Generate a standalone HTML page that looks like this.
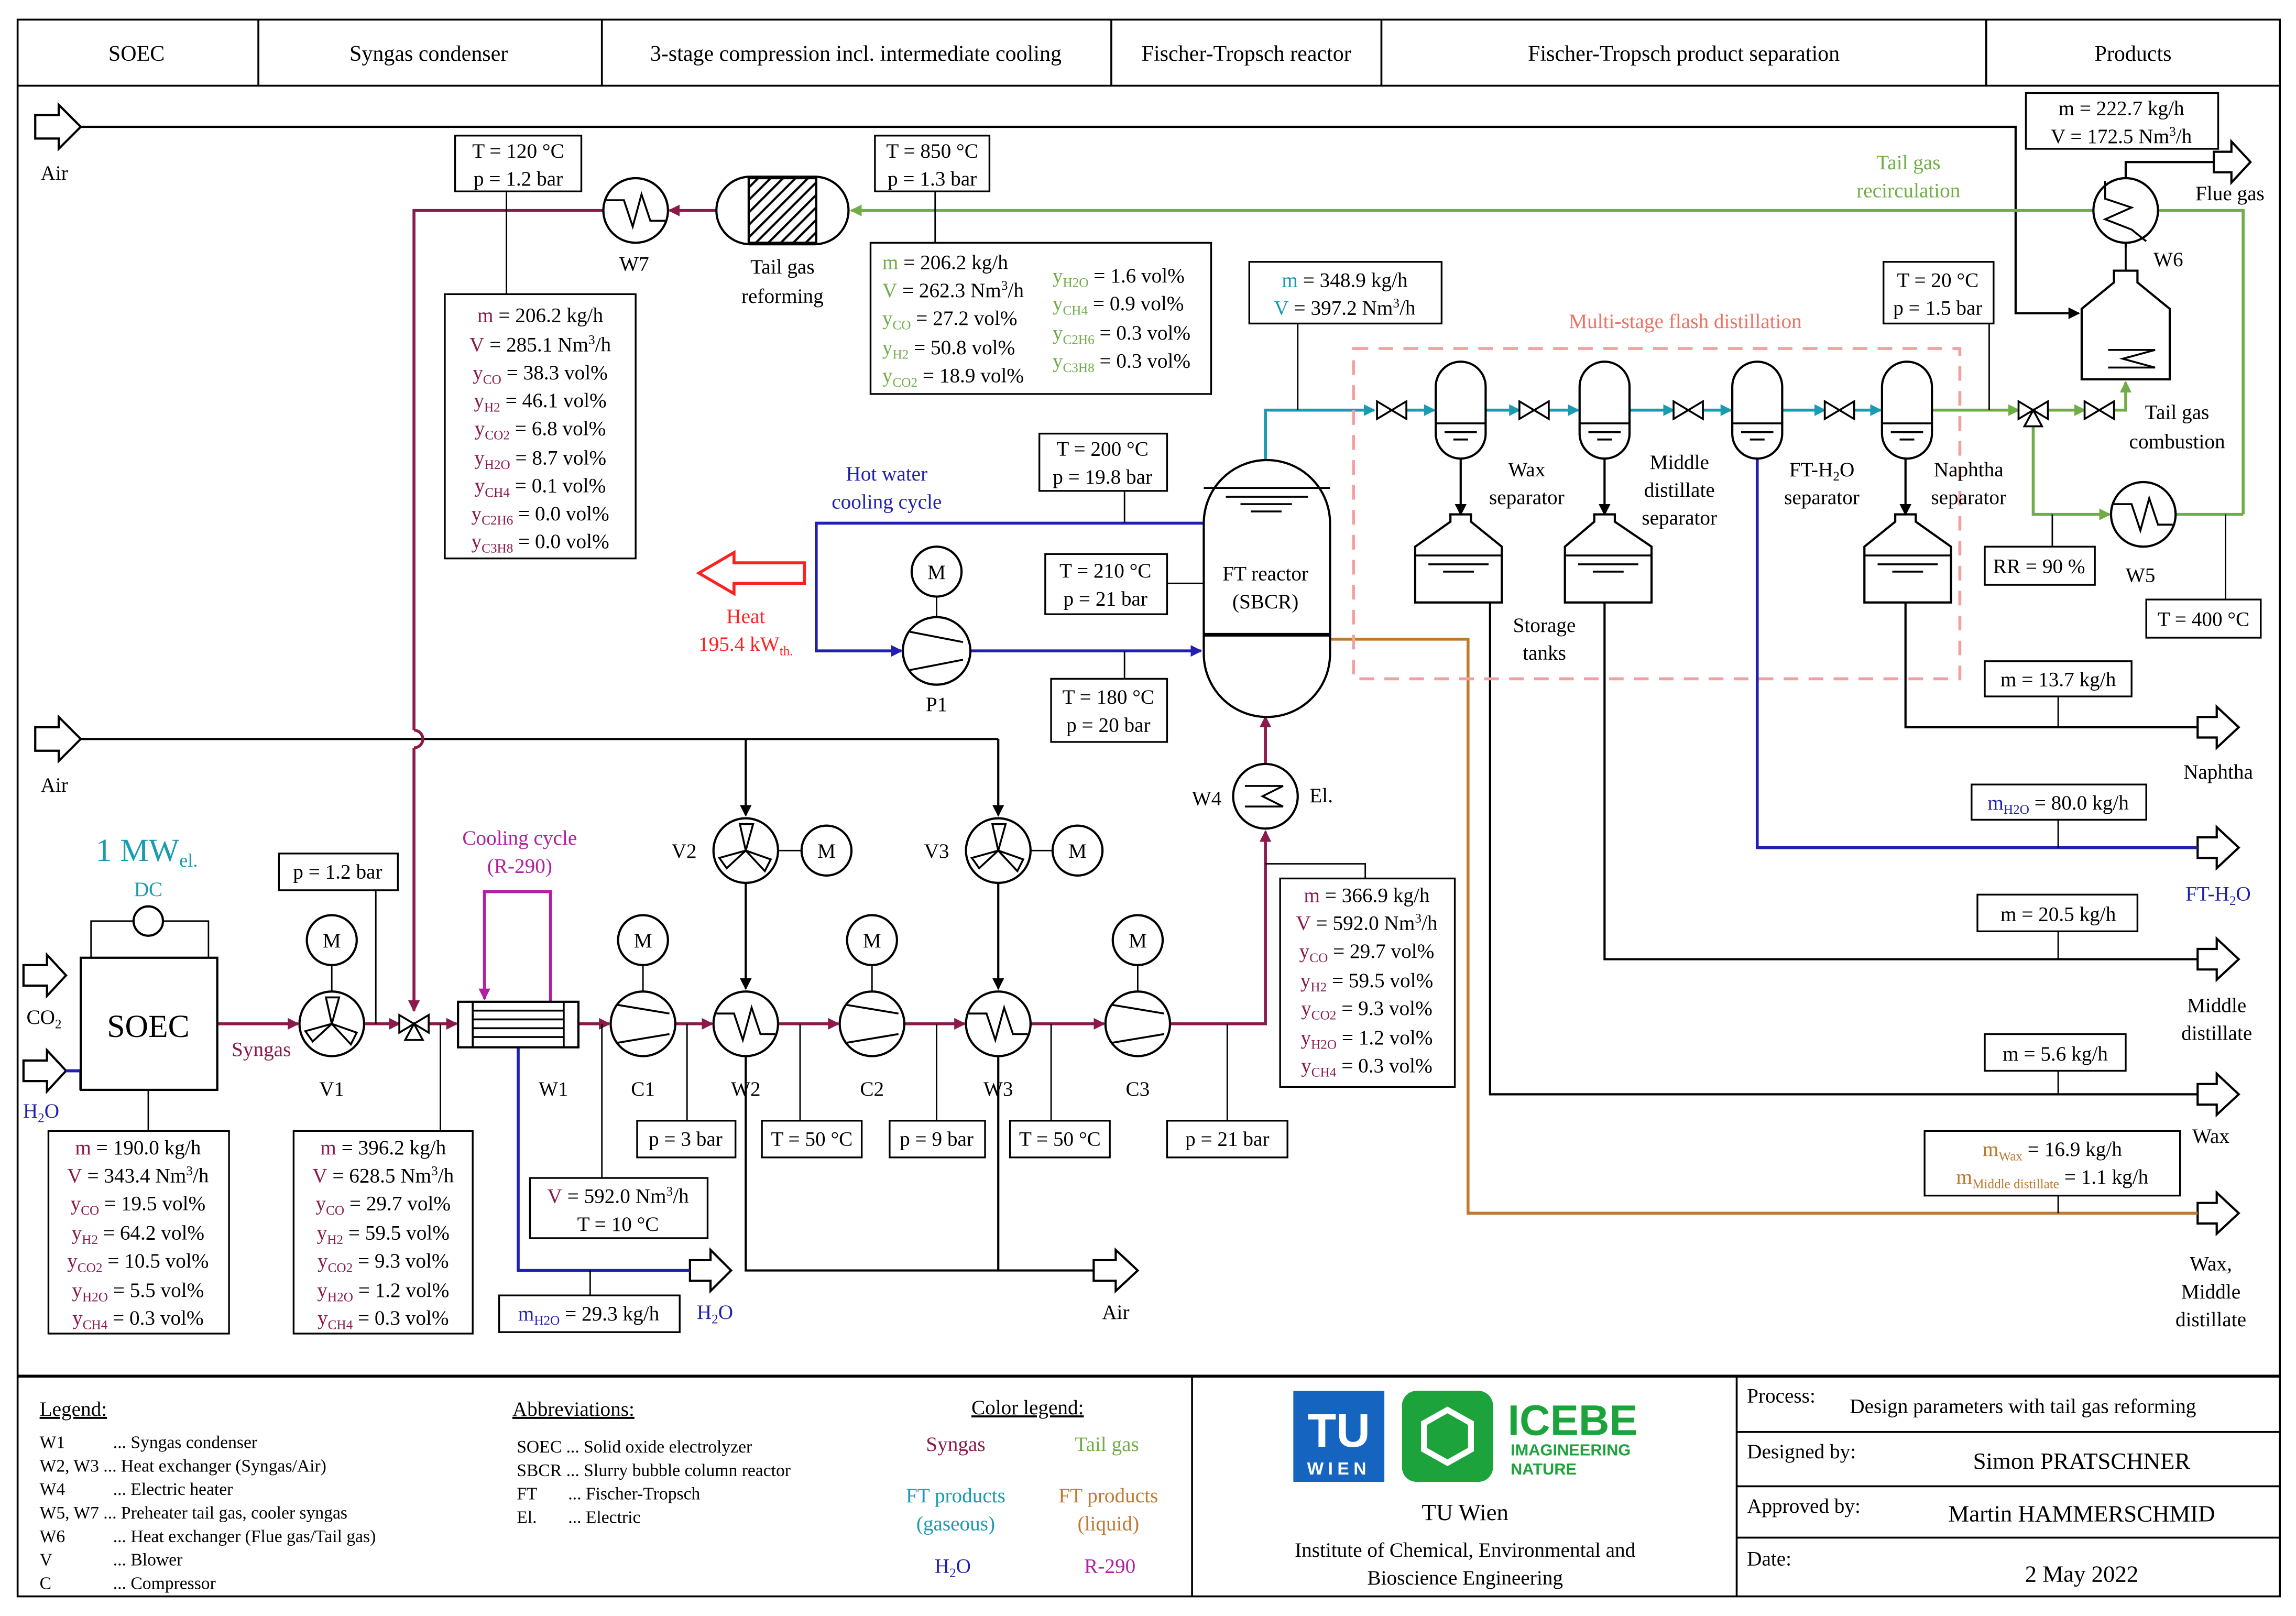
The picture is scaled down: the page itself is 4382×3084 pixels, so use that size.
<!DOCTYPE html>
<html><head><meta charset="utf-8"><style>
html,body{margin:0;padding:0;background:#fff}
svg{display:block}
text{font-family:"Liberation Serif",serif;font-size:14px;fill:#000}
.c{text-anchor:middle}
.s{font-size:9px}
</style></head><body>
<svg width="4382" height="3084" viewBox="0 0 1564 1100" xmlns="http://www.w3.org/2000/svg">
<defs>
<marker id="ak" markerWidth="8" markerHeight="8" refX="7" refY="4" orient="auto" markerUnits="userSpaceOnUse"><path d="M0,0L8,4L0,8z" fill="#000"/></marker>
<marker id="ap" markerWidth="8" markerHeight="8" refX="7" refY="4" orient="auto" markerUnits="userSpaceOnUse"><path d="M0,0L8,4L0,8z" fill="#8B1A4B"/></marker>
<marker id="ag" markerWidth="8" markerHeight="8" refX="7" refY="4" orient="auto" markerUnits="userSpaceOnUse"><path d="M0,0L8,4L0,8z" fill="#70AD47"/></marker>
<marker id="at" markerWidth="8" markerHeight="8" refX="7" refY="4" orient="auto" markerUnits="userSpaceOnUse"><path d="M0,0L8,4L0,8z" fill="#1A9BB0"/></marker>
<marker id="ab" markerWidth="8" markerHeight="8" refX="7" refY="4" orient="auto" markerUnits="userSpaceOnUse"><path d="M0,0L8,4L0,8z" fill="#2020B0"/></marker>
<marker id="am" markerWidth="8" markerHeight="8" refX="7" refY="4" orient="auto" markerUnits="userSpaceOnUse"><path d="M0,0L8,4L0,8z" fill="#B020A0"/></marker>
<pattern id="hatch" width="6" height="6" patternUnits="userSpaceOnUse" patternTransform="rotate(45)"><rect width="6" height="6" fill="#fff"/><line x1="0" y1="0" x2="0" y2="6" stroke="#000" stroke-width="3"/></pattern>
</defs>
<rect width="1564" height="1100" fill="#fff"/>
<!-- frame -->
<g fill="none" stroke="#000" stroke-width="1.3">
<rect x="12" y="13" width="1541" height="1074"/>
<line x1="12" y1="58" x2="1553" y2="58"/>
<line x1="176" y1="13" x2="176" y2="58"/><line x1="410" y1="13" x2="410" y2="58"/><line x1="757" y1="13" x2="757" y2="58"/><line x1="941" y1="13" x2="941" y2="58"/><line x1="1353" y1="13" x2="1353" y2="58"/>
<line x1="12" y1="937" x2="1553" y2="937" stroke-width="2"/>
<line x1="812" y1="937" x2="812" y2="1087"/><line x1="1183" y1="937" x2="1183" y2="1087"/>
<line x1="1183" y1="975" x2="1553" y2="975"/><line x1="1183" y1="1012" x2="1553" y2="1012"/><line x1="1183" y1="1047" x2="1553" y2="1047"/>
</g>
<g font-size="15">
<text class="c" x="93" y="41" style="font-size:15px">SOEC</text>
<text class="c" x="292" y="41" style="font-size:15px">Syngas condenser</text>
<text class="c" x="583" y="41" style="font-size:15px">3-stage compression incl. intermediate cooling</text>
<text class="c" x="849" y="41" style="font-size:15px">Fischer-Tropsch reactor</text>
<text class="c" x="1147" y="41" style="font-size:15px">Fischer-Tropsch product separation</text>
<text class="c" x="1453" y="41" style="font-size:15px">Products</text>
</g>

<!-- black air lines -->
<g fill="none" stroke="#000" stroke-width="1.5">
<polyline points="55,86 1373,86 1373,213 1416,213" marker-end="url(#ak)"/>
<polyline points="55,503 680,503"/>
<line x1="508" y1="503" x2="508" y2="555" marker-end="url(#ak)"/>
<line x1="680" y1="503" x2="680" y2="555" marker-end="url(#ak)"/>
<line x1="508" y1="601" x2="508" y2="673" marker-end="url(#ak)"/>
<line x1="680" y1="601" x2="680" y2="673" marker-end="url(#ak)"/>
<polyline points="508,719 508,865 745,865"/>
<line x1="680" y1="719" x2="680" y2="865"/>
<!-- product lines -->
<polyline points="1298,410 1298,495 1500,495"/>
<polyline points="1093,410 1093,653 1500,653"/>
<polyline points="1015,410 1015,745 1500,745"/>
<line x1="995" y1="312" x2="995" y2="350" marker-end="url(#ak)"/>
<line x1="1093" y1="312" x2="1093" y2="350" marker-end="url(#ak)"/>
<line x1="1298" y1="312" x2="1298" y2="350" marker-end="url(#ak)"/>
<polyline points="1448,168 1448,110 1508,110"/>
</g>
<!-- block arrows -->
<g fill="#fff" stroke="#000" stroke-width="1.5">
<polygon points="24,78 40,78 40,71 55,86 40,101 40,94 24,94"/>
<polygon points="24,495 40,495 40,488 55,503 40,518 40,511 24,511"/>
<polygon points="16,657 32,657 32,650 45,664 32,678 32,671 16,671"/>
<polygon points="16,722 32,722 32,715 45,729 32,743 32,736 16,736"/>
<polygon points="1508,103 1520,103 1520,96 1533,110 1520,124 1520,117 1508,117"/>
<polygon points="1497,488 1510,488 1510,481 1525,495 1510,509 1510,502 1497,502"/>
<polygon points="1497,570 1510,570 1510,563 1525,577 1510,591 1510,584 1497,584"/>
<polygon points="1497,646 1510,646 1510,639 1525,653 1510,667 1510,660 1497,660"/>
<polygon points="1497,738 1510,738 1510,731 1525,745 1510,759 1510,752 1497,752"/>
<polygon points="1497,819 1510,819 1510,812 1525,826 1510,840 1510,833 1497,833"/>
<polygon points="745,858 760,858 760,851 775,865 760,879 760,872 745,872"/>
<polygon points="470,858 484,858 484,851 498,865 484,879 484,872 470,872"/>
</g>
<polygon points="548,383 500,383 500,376 476,390 500,404 500,397 548,397" fill="#fff" stroke="#FF2020" stroke-width="2"/>

<!-- purple syngas -->
<g fill="none" stroke="#8B1A4B" stroke-width="2">
<line x1="148" y1="697" x2="203" y2="697" marker-end="url(#ap)"/>
<line x1="248" y1="697" x2="272" y2="697" marker-end="url(#ap)"/>
<line x1="292" y1="697" x2="311" y2="697" marker-end="url(#ap)"/>
<line x1="394" y1="697" x2="415" y2="697" marker-end="url(#ap)"/>
<line x1="460" y1="697" x2="485" y2="697" marker-end="url(#ap)"/>
<line x1="530" y1="697" x2="571" y2="697" marker-end="url(#ap)"/>
<line x1="616" y1="697" x2="657" y2="697" marker-end="url(#ap)"/>
<line x1="702" y1="697" x2="752" y2="697" marker-end="url(#ap)"/>
<polyline points="797,697 862,697 862,566" marker-end="url(#ap)"/>
<line x1="862" y1="520" x2="862" y2="488" marker-end="url(#ap)"/>
<polyline points="411,143 282,143 282,497"/>
<path d="M282,497 a6,6 0 0 1 0,12"/>
<line x1="282" y1="509" x2="282" y2="688" marker-end="url(#ap)"/>
<line x1="488" y1="143" x2="456" y2="143" marker-end="url(#ap)"/>
</g>
<!-- green -->
<g fill="none" stroke="#70AD47" stroke-width="2">
<polyline points="1528,350 1528,143 1470,143"/>
<line x1="1426" y1="143" x2="580" y2="143" marker-end="url(#ag)"/>
<line x1="1315" y1="279" x2="1375" y2="279" marker-end="url(#ag)"/>
<line x1="1395" y1="279" x2="1420" y2="279" marker-end="url(#ag)"/>
<polyline points="1440,279 1448,279 1448,260" marker-end="url(#ag)"/>
<polyline points="1385,290 1385,350 1437,350" marker-end="url(#ag)"/>
<line x1="1482" y1="350" x2="1528" y2="350"/>
</g>
<!-- teal -->
<g fill="none" stroke="#1A9BB0" stroke-width="2">
<polyline points="862,313 862,279 936,279" marker-end="url(#at)"/>
<line x1="958" y1="279" x2="977" y2="279" marker-end="url(#at)"/>
<line x1="1012" y1="279" x2="1035" y2="279" marker-end="url(#at)"/>
<line x1="1055" y1="279" x2="1075" y2="279" marker-end="url(#at)"/>
<line x1="1110" y1="279" x2="1140" y2="279" marker-end="url(#at)"/>
<line x1="1160" y1="279" x2="1179" y2="279" marker-end="url(#at)"/>
<line x1="1214" y1="279" x2="1243" y2="279" marker-end="url(#at)"/>
<line x1="1263" y1="279" x2="1281" y2="279" marker-end="url(#at)"/>
</g>
<!-- blue -->
<g fill="none" stroke="#2020B0" stroke-width="2">
<polyline points="820,356 556,356 556,443 614,443" marker-end="url(#ab)"/>
<line x1="661" y1="443" x2="818" y2="443" marker-end="url(#ab)"/>
<polyline points="1197,312 1197,577 1497,577"/>
<polyline points="353,713 353,865 470,865"/>
<polyline points="55,742 55,729 45,729"/>
</g>
<line x1="45" y1="729" x2="55" y2="729" stroke="#2020B0" stroke-width="2"/>
<!-- brown -->
<polyline points="906,435 1000,435 1000,826 1497,826" fill="none" stroke="#C07830" stroke-width="2"/>
<!-- magenta -->
<polyline points="375,682 375,607 330,607 330,680" fill="none" stroke="#B020A0" stroke-width="2" marker-end="url(#am)"/>
<!-- dashed flash -->
<rect x="922" y="237" width="413" height="225" fill="none" stroke="#F4A0A0" stroke-width="2" stroke-dasharray="10,7"/>

<!-- thin connector lines -->
<g stroke="#000" stroke-width="1" fill="none">
<line x1="345" y1="130" x2="345" y2="200"/>
<line x1="637" y1="130" x2="637" y2="165"/>
<line x1="884" y1="220" x2="884" y2="279"/>
<line x1="1355" y1="220" x2="1355" y2="279"/>
<line x1="1398" y1="350" x2="1398" y2="372"/>
<line x1="1516" y1="350" x2="1516" y2="408"/>
<line x1="766" y1="334" x2="766" y2="356"/>
<line x1="795" y1="397" x2="820" y2="397"/>
<line x1="766" y1="443" x2="766" y2="462"/>
<polyline points="862,588 930,588 930,598"/>
<line x1="1402" y1="474" x2="1402" y2="495"/>
<line x1="1402" y1="558" x2="1402" y2="577"/>
<line x1="1402" y1="634" x2="1402" y2="653"/>
<line x1="1402" y1="729" x2="1402" y2="745"/>
<line x1="1402" y1="814" x2="1402" y2="826"/>
<line x1="256" y1="606" x2="256" y2="697"/>
<line x1="101" y1="742" x2="101" y2="770"/>
<line x1="300" y1="697" x2="300" y2="770"/>
<line x1="410" y1="697" x2="410" y2="802"/>
<line x1="402" y1="865" x2="402" y2="882"/>
<line x1="468" y1="697" x2="468" y2="763"/>
<line x1="545" y1="697" x2="545" y2="763"/>
<line x1="638" y1="697" x2="638" y2="763"/>
<line x1="716" y1="697" x2="716" y2="763"/>
<line x1="836" y1="697" x2="836" y2="763"/>
<line x1="226" y1="657" x2="226" y2="675"/>
<line x1="438" y1="657" x2="438" y2="675"/>
<line x1="594" y1="657" x2="594" y2="675"/>
<line x1="775" y1="657" x2="775" y2="675"/>
<line x1="530" y1="579" x2="546" y2="579"/>
<line x1="702" y1="579" x2="717" y2="579"/>
<line x1="638" y1="406" x2="638" y2="420"/>
<polyline points="62,652 62,627 91,627"/><polyline points="111,627 142,627 142,652"/>
</g>

<!-- equipment -->
<g fill="#fff" stroke="#000" stroke-width="1.5">
<!-- SOEC -->
<rect x="55" y="652" width="93" height="90"/>
<circle cx="101" cy="627" r="10"/>
<!-- motors -->
<circle cx="226" cy="640" r="17"/><circle cx="438" cy="640" r="17"/><circle cx="594" cy="640" r="17"/><circle cx="775" cy="640" r="17"/>
<circle cx="563" cy="579" r="17"/><circle cx="734" cy="579" r="17"/><circle cx="638" cy="389" r="17"/>
<!-- blowers -->
<circle cx="226" cy="697" r="22"/><circle cx="508" cy="579" r="22"/><circle cx="680" cy="579" r="22"/>
<!-- compressors -->
<circle cx="438" cy="697" r="22"/><circle cx="594" cy="697" r="22"/><circle cx="775" cy="697" r="22"/>
<circle cx="638" cy="443" r="23"/>
<!-- HX -->
<circle cx="508" cy="697" r="22"/><circle cx="680" cy="697" r="22"/><circle cx="433" cy="143" r="22"/><circle cx="1460" cy="350" r="22"/><circle cx="1448" cy="143" r="22"/><circle cx="862" cy="542" r="22"/>
<!-- W1 -->
<rect x="312" y="682" width="82" height="31"/>
<!-- reforming -->
<rect x="488" y="120" width="90" height="46" rx="23"/>
<rect x="510" y="121" width="46" height="44" fill="url(#hatch)"/>
<!-- FT reactor -->
<path d="M820,356 A43,43 0 0 1 906,356 L906,445 A43,43 0 0 1 820,445 Z"/>
<!-- separators -->
<rect x="978" y="246" width="34" height="66" rx="17"/>
<rect x="1076" y="246" width="34" height="66" rx="17"/>
<rect x="1180" y="246" width="34" height="66" rx="17"/>
<rect x="1282" y="246" width="34" height="66" rx="17"/>
<!-- tanks -->
<polygon points="964,372 988,355 988,350 1002,350 1002,355 1023,372 1023,410 964,410"/>
<polygon points="1066,372 1086,355 1086,350 1100,350 1100,355 1125,372 1125,410 1066,410"/>
<polygon points="1270,372 1291,355 1291,350 1305,350 1305,355 1329,372 1329,410 1270,410"/>
<!-- combustion -->
<polygon points="1418,210 1440,192 1440,184 1456,184 1456,192 1478,210 1478,258 1418,258"/>
</g>
<g fill="none" stroke="#000" stroke-width="1.3">
<!-- blower blades -->
<path d="M226,697 l-4,-18 l9,0 z M226,697 l17,6 l-4,8 z M226,697 l-13,12 l-5,-7 z"/>
<path d="M508,579 l-4,-18 l9,0 z M508,579 l17,6 l-4,8 z M508,579 l-13,12 l-5,-7 z"/>
<path d="M680,579 l-4,-18 l9,0 z M680,579 l17,6 l-4,8 z M680,579 l-13,12 l-5,-7 z"/>
<!-- compressor lines -->
<path d="M420,684 L456,690 M420,710 L456,704"/>
<path d="M576,684 L612,690 M576,710 L612,704"/>
<path d="M757,684 L793,690 M757,710 L793,704"/>
<path d="M620,430 L656,437 M620,456 L656,449"/>
<!-- HX zigzags -->
<polyline points="488,690 500,690 506,708 512,686 518,704 528,704"/>
<polyline points="660,690 672,690 678,708 684,686 690,704 700,704"/>
<polyline points="413,136 425,136 431,154 437,132 443,150 453,150"/>
<polyline points="1440,343 1452,343 1458,361 1464,339 1470,357 1480,357"/>
<polyline points="1434,123 1434,135 1452,141 1434,149 1452,156 1462,164"/>
<polyline points="848,535 874,535 860,542 874,549 848,549"/>
<polyline points="1436,238 1468,238 1446,244 1468,250 1436,250"/>
<line x1="1448" y1="184" x2="1448" y2="166"/>
<!-- W1 internals -->
<line x1="322" y1="682" x2="322" y2="713"/><line x1="384" y1="682" x2="384" y2="713"/>
<line x1="322" y1="688" x2="384" y2="688"/><line x1="322" y1="694" x2="384" y2="694"/><line x1="322" y1="700" x2="384" y2="700"/><line x1="322" y1="706" x2="384" y2="706"/>
<!-- levels -->
<line x1="820" y1="332" x2="906" y2="332"/><line x1="835" y1="338" x2="891" y2="338"/><line x1="845" y1="343" x2="880" y2="343"/><line x1="852" y1="348" x2="873" y2="348"/>
<line x1="820" y1="432" x2="906" y2="432" stroke-width="2.5"/>
<line x1="978" y1="288" x2="1012" y2="288"/><line x1="984" y1="294" x2="1006" y2="294"/><line x1="990" y1="299" x2="1000" y2="299"/>
<line x1="1076" y1="288" x2="1110" y2="288"/><line x1="1082" y1="294" x2="1104" y2="294"/><line x1="1088" y1="299" x2="1098" y2="299"/>
<line x1="1180" y1="288" x2="1214" y2="288"/><line x1="1186" y1="294" x2="1208" y2="294"/><line x1="1192" y1="299" x2="1202" y2="299"/>
<line x1="1282" y1="288" x2="1316" y2="288"/><line x1="1288" y1="294" x2="1310" y2="294"/><line x1="1294" y1="299" x2="1304" y2="299"/>
<line x1="964" y1="378" x2="1023" y2="378"/><line x1="973" y1="384" x2="1014" y2="384"/><line x1="983" y1="389" x2="1004" y2="389"/>
<line x1="1066" y1="378" x2="1125" y2="378"/><line x1="1075" y1="384" x2="1116" y2="384"/><line x1="1085" y1="389" x2="1106" y2="389"/>
<line x1="1270" y1="378" x2="1329" y2="378"/><line x1="1279" y1="384" x2="1320" y2="384"/><line x1="1289" y1="389" x2="1310" y2="389"/>
</g>
<!-- valves -->
<g fill="#fff" stroke="#000" stroke-width="1.3">
<polygon points="938,273 948,279 938,285"/><polygon points="958,273 948,279 958,285"/>
<polygon points="1035,273 1045,279 1035,285"/><polygon points="1055,273 1045,279 1055,285"/>
<polygon points="1140,273 1150,279 1140,285"/><polygon points="1160,273 1150,279 1160,285"/>
<polygon points="1243,273 1253,279 1243,285"/><polygon points="1263,273 1253,279 1263,285"/>
<polygon points="1420,273 1430,279 1420,285"/><polygon points="1440,273 1430,279 1440,285"/>
<polygon points="1375,273 1385,279 1375,285"/><polygon points="1395,273 1385,279 1395,285"/><polygon points="1379,290 1385,279 1391,290"/>
<polygon points="272,691 282,697 272,703"/><polygon points="292,691 282,697 292,703"/><polygon points="276,708 282,697 288,708"/>
</g>

<!-- boxes -->
<g fill="#fff" stroke="#000" stroke-width="1.2">
<rect x="310" y="92" width="86" height="38"/>
<rect x="303" y="200" width="130" height="180"/>
<rect x="596" y="92" width="78" height="38"/>
<rect x="593" y="165" width="232" height="103"/>
<rect x="1380" y="63" width="131" height="38"/>
<rect x="851" y="178" width="131" height="42"/>
<rect x="1283" y="178" width="75" height="42"/>
<rect x="1352" y="372" width="75" height="26"/>
<rect x="1462" y="408" width="78" height="26"/>
<rect x="708" y="295" width="87" height="39"/>
<rect x="712" y="377" width="83" height="41"/>
<rect x="716" y="462" width="79" height="43"/>
<rect x="1352" y="450" width="100" height="24"/>
<rect x="1343" y="534" width="119" height="24"/>
<rect x="1347" y="609" width="109" height="25"/>
<rect x="1352" y="704" width="96" height="25"/>
<rect x="1311" y="770" width="174" height="44"/>
<rect x="872" y="598" width="119" height="142"/>
<rect x="190" y="581" width="81" height="25"/>
<rect x="33" y="770" width="123" height="138"/>
<rect x="200" y="770" width="122" height="138"/>
<rect x="361" y="802" width="121" height="41"/>
<rect x="340" y="882" width="123" height="25"/>
<rect x="434" y="763" width="67" height="25"/>
<rect x="519" y="763" width="68" height="25"/>
<rect x="606" y="763" width="65" height="25"/>
<rect x="688" y="763" width="68" height="25"/>
<rect x="795" y="763" width="82" height="25"/>
</g>

<!-- box texts -->
<g>
<text class="c" x="353" y="107">T = 120 °C</text><text class="c" x="353" y="126">p = 1.2 bar</text>
<text class="c" x="635" y="107">T = 850 °C</text><text class="c" x="635" y="126">p = 1.3 bar</text>
<text class="c" x="1445" y="78">m = 222.7 kg/h</text><text class="c" x="1445" y="97">V = 172.5 Nm<tspan class="s" dy="-5">3</tspan><tspan dy="5">/h</tspan></text>
<text class="c" x="916" y="195"><tspan fill="#1A9BB0">m</tspan> = 348.9 kg/h</text><text class="c" x="916" y="214"><tspan fill="#1A9BB0">V</tspan> = 397.2 Nm<tspan class="s" dy="-5">3</tspan><tspan dy="5">/h</tspan></text>
<text class="c" x="1320" y="195">T = 20 °C</text><text class="c" x="1320" y="214">p = 1.5 bar</text>
<text class="c" x="1389" y="390">RR = 90 %</text>
<text class="c" x="1501" y="426">T = 400 °C</text>
<text class="c" x="751" y="310">T = 200 °C</text><text class="c" x="751" y="329">p = 19.8 bar</text>
<text class="c" x="753" y="393">T = 210 °C</text><text class="c" x="753" y="412">p = 21 bar</text>
<text class="c" x="755" y="479">T = 180 °C</text><text class="c" x="755" y="498">p = 20 bar</text>
<text class="c" x="1402" y="467">m = 13.7 kg/h</text>
<text class="c" x="1402" y="551"><tspan fill="#2020B0">m<tspan class="s" dy="3">H2O</tspan></tspan><tspan dy="-3"> = 80.0 kg/h</tspan></text>
<text class="c" x="1402" y="627">m = 20.5 kg/h</text>
<text class="c" x="1400" y="722">m = 5.6 kg/h</text>
<text class="c" x="1398" y="787"><tspan fill="#C07830">m<tspan class="s" dy="3">Wax</tspan></tspan><tspan dy="-3"> = 16.9 kg/h</tspan></text>
<text class="c" x="1398" y="806"><tspan fill="#C07830">m<tspan class="s" dy="3">Middle distillate</tspan></tspan><tspan dy="-3"> = 1.1 kg/h</tspan></text>
<text class="c" x="230" y="598">p = 1.2 bar</text>
<text class="c" x="421" y="819"><tspan fill="#8B1A4B">V</tspan> = 592.0 Nm<tspan class="s" dy="-5">3</tspan><tspan dy="5">/h</tspan></text><text class="c" x="421" y="838">T = 10 °C</text>
<text class="c" x="401" y="899"><tspan fill="#2020B0">m<tspan class="s" dy="3">H2O</tspan></tspan><tspan dy="-3"> = 29.3 kg/h</tspan></text>
<text class="c" x="467" y="780">p = 3 bar</text>
<text class="c" x="553" y="780">T = 50 °C</text>
<text class="c" x="638" y="780">p = 9 bar</text>
<text class="c" x="722" y="780">T = 50 °C</text>
<text class="c" x="836" y="780">p = 21 bar</text>
</g>
<!-- composition boxes -->
<g fill="#8B1A4B">
<text class="c" x="368" y="219"><tspan fill="#8B1A4B">m</tspan> = 206.2 kg/h</text>
<text class="c" x="368" y="239"><tspan fill="#8B1A4B">V</tspan> = 285.1 Nm<tspan class="s" dy="-5">3</tspan><tspan dy="5">/h</tspan></text>
<text class="c" x="368" y="258"><tspan fill="#8B1A4B">y<tspan class="s" dy="3">CO</tspan></tspan><tspan dy="-3"> = 38.3 vol%</tspan></text>
<text class="c" x="368" y="277"><tspan fill="#8B1A4B">y<tspan class="s" dy="3">H2</tspan></tspan><tspan dy="-3"> = 46.1 vol%</tspan></text>
<text class="c" x="368" y="296"><tspan fill="#8B1A4B">y<tspan class="s" dy="3">CO2</tspan></tspan><tspan dy="-3"> = 6.8 vol%</tspan></text>
<text class="c" x="368" y="316"><tspan fill="#8B1A4B">y<tspan class="s" dy="3">H2O</tspan></tspan><tspan dy="-3"> = 8.7 vol%</tspan></text>
<text class="c" x="368" y="335"><tspan fill="#8B1A4B">y<tspan class="s" dy="3">CH4</tspan></tspan><tspan dy="-3"> = 0.1 vol%</tspan></text>
<text class="c" x="368" y="354"><tspan fill="#8B1A4B">y<tspan class="s" dy="3">C2H6</tspan></tspan><tspan dy="-3"> = 0.0 vol%</tspan></text>
<text class="c" x="368" y="373"><tspan fill="#8B1A4B">y<tspan class="s" dy="3">C3H8</tspan></tspan><tspan dy="-3"> = 0.0 vol%</tspan></text>

<text x="601" y="183"><tspan fill="#70AD47">m</tspan> = 206.2 kg/h</text>
<text x="601" y="202"><tspan fill="#70AD47">V</tspan> = 262.3 Nm<tspan class="s" dy="-5">3</tspan><tspan dy="5">/h</tspan></text>
<text x="601" y="221"><tspan fill="#70AD47">y<tspan class="s" dy="3">CO</tspan></tspan><tspan dy="-3"> = 27.2 vol%</tspan></text>
<text x="601" y="241"><tspan fill="#70AD47">y<tspan class="s" dy="3">H2</tspan></tspan><tspan dy="-3"> = 50.8 vol%</tspan></text>
<text x="601" y="260"><tspan fill="#70AD47">y<tspan class="s" dy="3">CO2</tspan></tspan><tspan dy="-3"> = 18.9 vol%</tspan></text>
<text x="717" y="192"><tspan fill="#70AD47">y<tspan class="s" dy="3">H2O</tspan></tspan><tspan dy="-3"> = 1.6 vol%</tspan></text>
<text x="717" y="211"><tspan fill="#70AD47">y<tspan class="s" dy="3">CH4</tspan></tspan><tspan dy="-3"> = 0.9 vol%</tspan></text>
<text x="717" y="231"><tspan fill="#70AD47">y<tspan class="s" dy="3">C2H6</tspan></tspan><tspan dy="-3"> = 0.3 vol%</tspan></text>
<text x="717" y="250"><tspan fill="#70AD47">y<tspan class="s" dy="3">C3H8</tspan></tspan><tspan dy="-3"> = 0.3 vol%</tspan></text>

<text class="c" x="931" y="614"><tspan fill="#8B1A4B">m</tspan> = 366.9 kg/h</text>
<text class="c" x="931" y="633"><tspan fill="#8B1A4B">V</tspan> = 592.0 Nm<tspan class="s" dy="-5">3</tspan><tspan dy="5">/h</tspan></text>
<text class="c" x="931" y="652"><tspan fill="#8B1A4B">y<tspan class="s" dy="3">CO</tspan></tspan><tspan dy="-3"> = 29.7 vol%</tspan></text>
<text class="c" x="931" y="672"><tspan fill="#8B1A4B">y<tspan class="s" dy="3">H2</tspan></tspan><tspan dy="-3"> = 59.5 vol%</tspan></text>
<text class="c" x="931" y="691"><tspan fill="#8B1A4B">y<tspan class="s" dy="3">CO2</tspan></tspan><tspan dy="-3"> = 9.3 vol%</tspan></text>
<text class="c" x="931" y="711"><tspan fill="#8B1A4B">y<tspan class="s" dy="3">H2O</tspan></tspan><tspan dy="-3"> = 1.2 vol%</tspan></text>
<text class="c" x="931" y="730"><tspan fill="#8B1A4B">y<tspan class="s" dy="3">CH4</tspan></tspan><tspan dy="-3"> = 0.3 vol%</tspan></text>

<text class="c" x="94" y="786"><tspan fill="#8B1A4B">m</tspan> = 190.0 kg/h</text>
<text class="c" x="94" y="805"><tspan fill="#8B1A4B">V</tspan> = 343.4 Nm<tspan class="s" dy="-5">3</tspan><tspan dy="5">/h</tspan></text>
<text class="c" x="94" y="824"><tspan fill="#8B1A4B">y<tspan class="s" dy="3">CO</tspan></tspan><tspan dy="-3"> = 19.5 vol%</tspan></text>
<text class="c" x="94" y="844"><tspan fill="#8B1A4B">y<tspan class="s" dy="3">H2</tspan></tspan><tspan dy="-3"> = 64.2 vol%</tspan></text>
<text class="c" x="94" y="863"><tspan fill="#8B1A4B">y<tspan class="s" dy="3">CO2</tspan></tspan><tspan dy="-3"> = 10.5 vol%</tspan></text>
<text class="c" x="94" y="883"><tspan fill="#8B1A4B">y<tspan class="s" dy="3">H2O</tspan></tspan><tspan dy="-3"> = 5.5 vol%</tspan></text>
<text class="c" x="94" y="902"><tspan fill="#8B1A4B">y<tspan class="s" dy="3">CH4</tspan></tspan><tspan dy="-3"> = 0.3 vol%</tspan></text>

<text class="c" x="261" y="786"><tspan fill="#8B1A4B">m</tspan> = 396.2 kg/h</text>
<text class="c" x="261" y="805"><tspan fill="#8B1A4B">V</tspan> = 628.5 Nm<tspan class="s" dy="-5">3</tspan><tspan dy="5">/h</tspan></text>
<text class="c" x="261" y="824"><tspan fill="#8B1A4B">y<tspan class="s" dy="3">CO</tspan></tspan><tspan dy="-3"> = 29.7 vol%</tspan></text>
<text class="c" x="261" y="844"><tspan fill="#8B1A4B">y<tspan class="s" dy="3">H2</tspan></tspan><tspan dy="-3"> = 59.5 vol%</tspan></text>
<text class="c" x="261" y="863"><tspan fill="#8B1A4B">y<tspan class="s" dy="3">CO2</tspan></tspan><tspan dy="-3"> = 9.3 vol%</tspan></text>
<text class="c" x="261" y="883"><tspan fill="#8B1A4B">y<tspan class="s" dy="3">H2O</tspan></tspan><tspan dy="-3"> = 1.2 vol%</tspan></text>
<text class="c" x="261" y="902"><tspan fill="#8B1A4B">y<tspan class="s" dy="3">CH4</tspan></tspan><tspan dy="-3"> = 0.3 vol%</tspan></text>
</g>

<!-- labels -->
<g>
<text class="c" x="37" y="122">Air</text>
<text class="c" x="37" y="539">Air</text>
<text class="c" x="760" y="898">Air</text>
<text class="c" x="432" y="184">W7</text>
<text class="c" x="533" y="186">Tail gas</text><text class="c" x="533" y="206">reforming</text>
<text class="c" x="1519" y="136">Flue gas</text>
<text class="c" x="1477" y="181">W6</text>
<text class="c" x="1483" y="285">Tail gas</text><text class="c" x="1483" y="305">combustion</text>
<text class="c" x="1458" y="396">W5</text>
<text class="c" x="862" y="395">FT reactor</text><text class="c" x="862" y="414">(SBCR)</text>
<text class="c" x="1040" y="324">Wax</text><text class="c" x="1040" y="343">separator</text>
<text class="c" x="1144" y="319">Middle</text><text class="c" x="1144" y="338">distillate</text><text class="c" x="1144" y="357">separator</text>
<text class="c" x="1241" y="324">FT-H<tspan class="s" dy="3">2</tspan><tspan dy="-3">O</tspan></text><text class="c" x="1241" y="343">separator</text>
<text class="c" x="1341" y="324">Naphtha</text><text class="c" x="1341" y="343">separator</text>
<text class="c" x="1052" y="430">Storage</text><text class="c" x="1052" y="449">tanks</text>
<text class="c" x="1511" y="530">Naphtha</text>
<text class="c" x="1511" y="613" fill="#2020B0" style="fill:#2020B0">FT-H<tspan class="s" dy="3">2</tspan><tspan dy="-3">O</tspan></text>
<text class="c" x="1510" y="689">Middle</text><text class="c" x="1510" y="708">distillate</text>
<text class="c" x="1506" y="778">Wax</text>
<text class="c" x="1506" y="865">Wax,</text><text class="c" x="1506" y="884">Middle</text><text class="c" x="1506" y="903">distillate</text>
<text class="c" x="638" y="484">P1</text>
<text class="c" x="638" y="394">M</text><text class="c" x="226" y="645">M</text><text class="c" x="438" y="645">M</text><text class="c" x="594" y="645">M</text><text class="c" x="775" y="645">M</text><text class="c" x="563" y="584">M</text><text class="c" x="734" y="584">M</text>
<text class="c" x="466" y="584">V2</text><text class="c" x="638" y="584">V3</text>
<text class="c" x="822" y="548">W4</text><text class="c" x="900" y="546">El.</text>
<text class="c" x="226" y="746">V1</text><text class="c" x="377" y="746">W1</text><text class="c" x="438" y="746">C1</text><text class="c" x="508" y="746">W2</text><text class="c" x="594" y="746">C2</text><text class="c" x="680" y="746">W3</text><text class="c" x="775" y="746">C3</text>
<text class="c" x="101" y="706" style="font-size:22px">SOEC</text>
<text class="c" x="178" y="719" style="fill:#8B1A4B">Syngas</text>
<text class="c" x="30" y="697">CO<tspan class="s" dy="3">2</tspan></text>
<text class="c" x="28" y="761" style="fill:#2020B0">H<tspan class="s" dy="3">2</tspan><tspan dy="-3">O</tspan></text>
<text class="c" x="487" y="898" style="fill:#2020B0">H<tspan class="s" dy="3">2</tspan><tspan dy="-3">O</tspan></text>
<text class="c" x="101" y="610" style="fill:#1A9BB0">DC</text>
<text class="c" x="100" y="586" style="fill:#1A9BB0;font-size:22px">1 MW<tspan style="font-size:13px" dy="4">el.</tspan></text>
<text class="c" x="354" y="575" style="fill:#B020A0">Cooling cycle</text><text class="c" x="354" y="594" style="fill:#B020A0">(R-290)</text>
<text class="c" x="604" y="327" style="fill:#2020B0">Hot water</text><text class="c" x="604" y="346" style="fill:#2020B0">cooling cycle</text>
<text class="c" x="508" y="424" style="fill:#FF2020">Heat</text><text class="c" x="508" y="443" style="fill:#FF2020">195.4 kW<tspan class="s" dy="3">th.</tspan></text>
<text class="c" x="1300" y="115" style="fill:#70AD47">Tail gas</text><text class="c" x="1300" y="134" style="fill:#70AD47">recirculation</text>
<text class="c" x="1148" y="223" style="fill:#F07060">Multi-stage flash distillation</text>
</g>

<!-- footer -->
<g style="font-size:12px">
<text x="27" y="964" style="font-size:14px;text-decoration:underline">Legend:</text>
<text x="27" y="986" style="font-size:12px">W1</text><text x="77" y="986" style="font-size:12px">... Syngas condenser</text>
<text x="27" y="1002" style="font-size:12px">W2, W3 ... Heat exchanger (Syngas/Air)</text>
<text x="27" y="1018" style="font-size:12px">W4</text><text x="77" y="1018" style="font-size:12px">... Electric heater</text>
<text x="27" y="1034" style="font-size:12px">W5, W7 ... Preheater tail gas, cooler syngas</text>
<text x="27" y="1050" style="font-size:12px">W6</text><text x="77" y="1050" style="font-size:12px">... Heat exchanger (Flue gas/Tail gas)</text>
<text x="27" y="1066" style="font-size:12px">V</text><text x="77" y="1066" style="font-size:12px">... Blower</text>
<text x="27" y="1082" style="font-size:12px">C</text><text x="77" y="1082" style="font-size:12px">... Compressor</text>
<text x="349" y="964" style="font-size:14px;text-decoration:underline">Abbreviations:</text>
<text x="352" y="989" style="font-size:12px">SOEC ... Solid oxide electrolyzer</text>
<text x="352" y="1005" style="font-size:12px">SBCR ... Slurry bubble column reactor</text>
<text x="352" y="1021" style="font-size:12px">FT</text><text x="387" y="1021" style="font-size:12px">... Fischer-Tropsch</text>
<text x="352" y="1037" style="font-size:12px">El.</text><text x="387" y="1037" style="font-size:12px">... Electric</text>
<text class="c" x="700" y="963" style="font-size:14px;text-decoration:underline">Color legend:</text>
<text class="c" x="651" y="988" style="fill:#8B1A4B">Syngas</text>
<text class="c" x="754" y="988" style="fill:#70AD47">Tail gas</text>
<text class="c" x="651" y="1023" style="fill:#1A9BB0">FT products</text><text class="c" x="651" y="1042" style="fill:#1A9BB0">(gaseous)</text>
<text class="c" x="755" y="1023" style="fill:#C07830">FT products</text><text class="c" x="755" y="1042" style="fill:#C07830">(liquid)</text>
<text class="c" x="649" y="1071" style="fill:#2020B0">H<tspan class="s" dy="3">2</tspan><tspan dy="-3">O</tspan></text>
<text class="c" x="756" y="1071" style="fill:#B020A0">R-290</text>
</g>
<!-- logos -->
<rect x="881" y="947" width="62" height="62" fill="#1565C0"/>
<text class="c" x="912" y="985" style="fill:#fff;font-family:'Liberation Sans',sans-serif;font-size:32px;font-weight:bold">TU</text>
<text class="c" x="912" y="1004" style="fill:#fff;font-family:'Liberation Sans',sans-serif;font-size:12px;font-weight:bold;letter-spacing:3px">WIEN</text>
<rect x="955" y="947" width="62" height="62" rx="10" fill="#1DA33B"/>
<polygon points="986,960 1002,969 1002,987 986,996 970,987 970,969" fill="none" stroke="#fff" stroke-width="4"/>
<text x="1027" y="977" style="fill:#1DA33B;font-family:'Liberation Sans',sans-serif;font-size:29px;font-weight:bold">ICEBE</text>
<text x="1029" y="991" style="fill:#1DA33B;font-family:'Liberation Sans',sans-serif;font-size:11px;font-weight:bold">IMAGINEERING</text>
<text x="1029" y="1004" style="fill:#1DA33B;font-family:'Liberation Sans',sans-serif;font-size:11px;font-weight:bold">NATURE</text>
<text class="c" x="998" y="1035" style="font-size:16px">TU Wien</text>
<text class="c" x="998" y="1060">Institute of Chemical, Environmental and</text>
<text class="c" x="998" y="1079">Bioscience Engineering</text>
<text x="1190" y="955">Process:</text><text x="1260" y="962">Design parameters with tail gas reforming</text>
<text x="1190" y="993">Designed by:</text><text class="c" x="1418" y="1000" style="font-size:16px">Simon PRATSCHNER</text>
<text x="1190" y="1030">Approved by:</text><text class="c" x="1418" y="1036" style="font-size:16px">Martin HAMMERSCHMID</text>
<text x="1190" y="1066">Date:</text><text class="c" x="1418" y="1077" style="font-size:16px">2 May 2022</text>
</svg>
</body></html>
